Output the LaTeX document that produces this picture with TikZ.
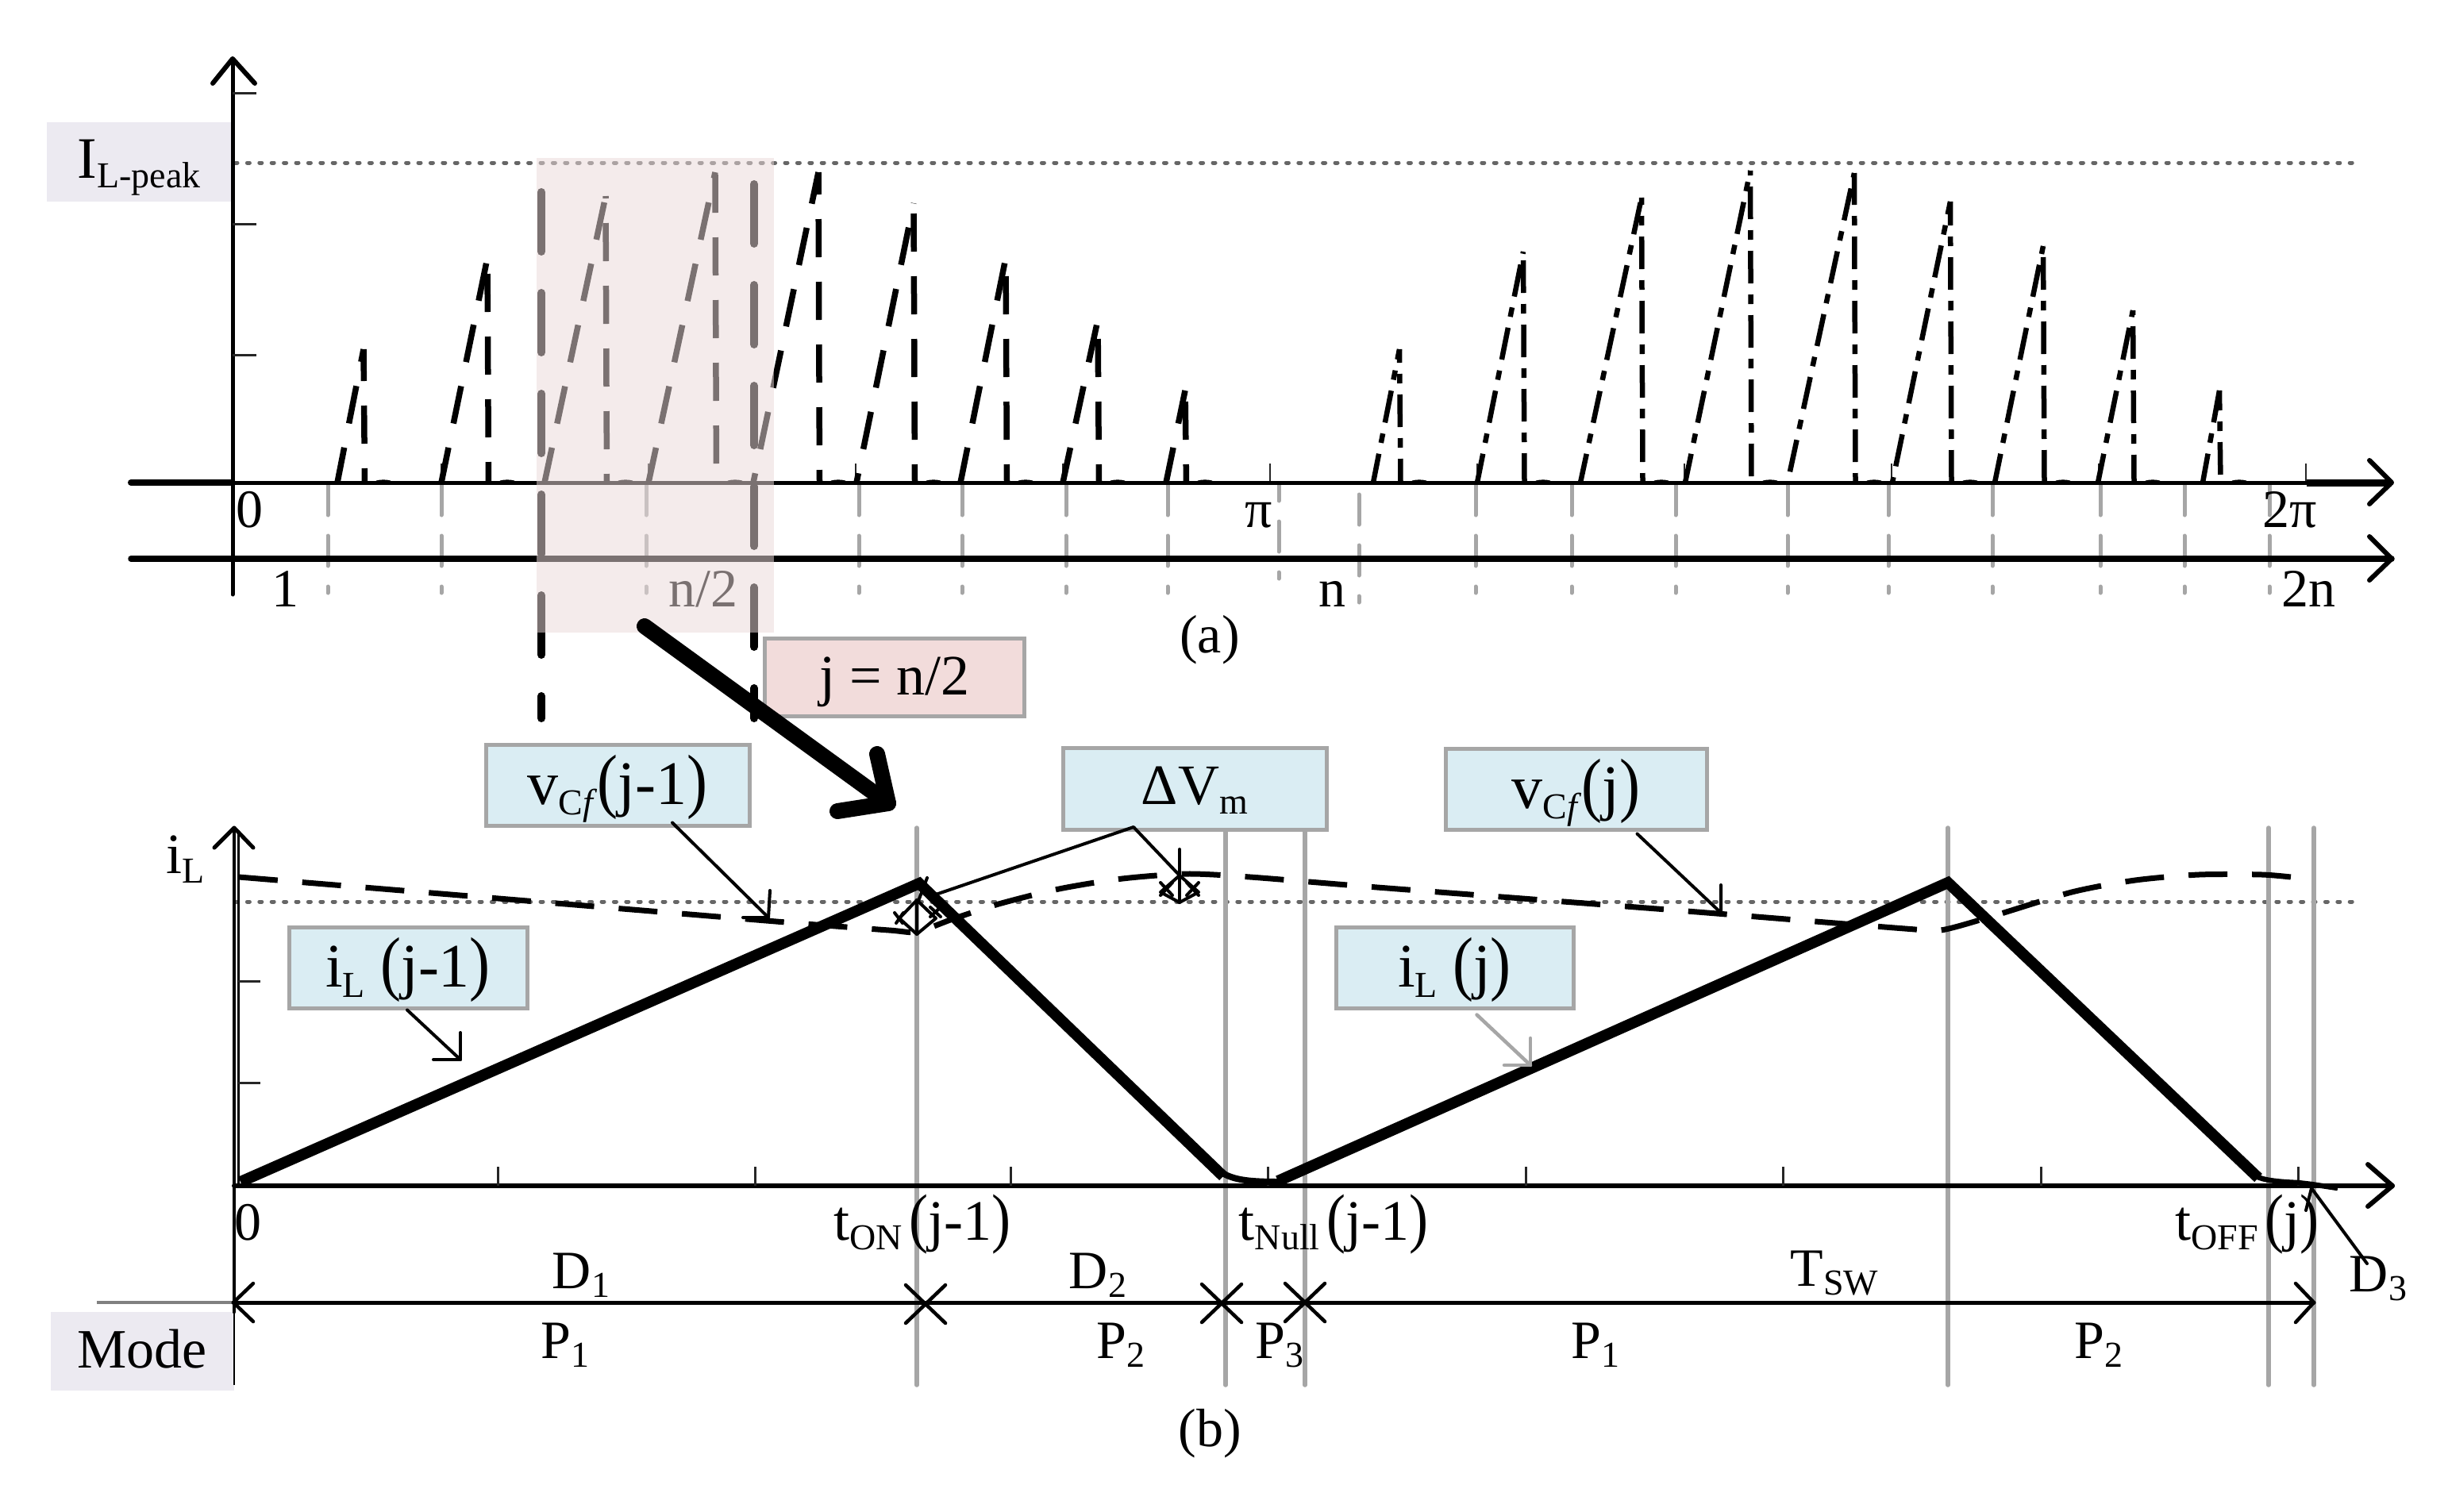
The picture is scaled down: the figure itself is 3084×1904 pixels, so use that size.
\documentclass[tikz,border=0pt]{standalone}
\usepackage{graphicx}
\usepackage{fontspec}
\setmainfont{Liberation Serif}
\usetikzlibrary{calc}
\newcommand\fa{\fontsize{72pt}{72pt}\selectfont}
\newcommand\fb{\fontsize{68pt}{68pt}\selectfont}
\newcommand\fc{\fontsize{78pt}{78pt}\selectfont}
\newcommand\sbs[1]{\raisebox{-.17em}{\fontsize{46pt}{46pt}\selectfont #1}}
\newcommand\lpn{\scalebox{1}[1.15]{(}}
\newcommand\rpn{\scalebox{1}[1.15]{)}}
\definecolor{greyline}{HTML}{A6A6A6}
\definecolor{blueb}{HTML}{DAEDF3}
\definecolor{lilac}{HTML}{ECEAF1}
\definecolor{pinkb}{HTML}{F2DCDB}
\definecolor{veil}{HTML}{EBDADA}
\definecolor{dotc}{HTML}{666666}
\tikzset{
  lab/.style={font=\fb,anchor=base,inner sep=0pt},
  cbox/.style={draw=greyline,line width=5pt,fill=blueb,inner sep=0pt,font=\fc,text height=48pt,text depth=0pt,align=center},
  axis/.style={line width=6pt,line cap=round,line join=round},
  thinblk/.style={line width=4pt,line cap=round,line join=round},
  tick/.style={line width=3pt,color=black!85},
  gv/.style={line width=5.5pt,color=greyline,line cap=round},
  gdash/.style={line width=5pt,color=greyline,line cap=round,dash pattern=on 38pt off 26pt on 38pt off 26pt on 8pt off 300pt},
  peak/.style={line width=5pt,color=dotc,line cap=round,dash pattern=on 3pt off 12.4pt},
  saw/.style={line width=7.5pt,dash pattern=on 48pt off 31pt},
  sawdd/.style={line width=6.5pt,dash pattern=on 41pt off 14pt on 12pt off 14pt},
  thickd/.style={line width=10pt,line cap=round,dash pattern=on 75pt off 52pt},
}
\begin{document}
\begin{tikzpicture}[x=1pt,y=-1pt]
\useasboundingbox (0,0) rectangle (3084,1904);
\fill[white] (0,0) rectangle (3084,1904);

% ---------- chart (a)
\fill[lilac] (59,154) rectangle (293,254);
\node[lab,font=\fontsize{74pt}{74pt}\selectfont] (ipeak) at (175,224) {I\sbs{L-peak}};
\draw[peak] (296,205) -- (2970,205);

\foreach \x in {556,817,1078,1339,1600,1861,2122,2383,2644,2905}
  \draw[tick,line width=2.5pt] (\x,608) -- (\x,584);

% saw-tooth pulses, first half
\foreach \xa/\xp/\yp/\pr/\pf in {425/458/440/3/30,556/614/325/3/22,686/763/247/3/37,817/901/217/3/55,949/1031/217/36/32,1079/1151/256/36/25,1210/1267/325/3/25,1339/1383/403/3/25,1469/1493/492/3/25}{
  \draw[saw,dash phase=\pr pt] (\xa,608) -- (\xp,\yp);
  \draw[saw,dash phase=\pf pt] (\xp+1.5,608) -- (\xp,\yp);
  \draw[line width=2pt] (\xp+16,606.5) .. controls (\xp+22,605) and (\xp+28,605) .. (\xp+34,606.5);
}
% saw-tooth pulses, second half
\foreach \xa/\xp/\yp/\pr/\pf in {1730/1763/440/4/11,1861/1919/317/4/4,1991/2068/249/4/55,2123/2205/215/4/73,2252/2336/218/67/55,2384/2457/254/60/0,2513/2574/310/4/0,2643/2687/391/4/6,2775/2796/492/4/71}{
  \draw[sawdd,dash phase=\pr pt] (\xa,608) -- (\xp,\yp);
  \draw[sawdd,dash phase=\pf pt] (\xp+1.5,608) -- (\xp,\yp);
  \draw[line width=2pt] (\xp+16,606.5) .. controls (\xp+22,605) and (\xp+28,605) .. (\xp+34,606.5);
}

% grey dashed verticals
\foreach \x in {413,556,814,1082,1212,1343,1471,1859,1980,2111,2252,2379,2510,2646,2752,2859}
  \draw[gdash] (\x,611) -- (\x,750);
\draw[gdash,dash pattern=on 20pt off 26pt on 38pt off 26pt on 8pt off 300pt] (1611,611) -- (1611,732);
\draw[gdash,dash pattern=on 38pt off 26pt on 38pt off 26pt on 8pt off 300pt] (1712,623) -- (1712,760);

% axes of (a)
\coordinate (a1l) at (165,608);
\coordinate (a1m) at (293,608);
\coordinate (a1n) at (2906,608);
\coordinate (a1r) at (3013,608);
\coordinate (a2l) at (165,704);
\coordinate (a2r) at (3013,704);
\coordinate (ayb) at (293,749);
\coordinate (ayt) at (293,74);
\draw[axis,line width=5pt] (ayb) -- (ayt);
\draw[axis] (268,105) -- (ayt) -- (321,105);
\foreach \y in {117,282,447}
  \draw[tick] (293,\y) -- (323,\y);
\draw[line width=8pt,line cap=round] (a1l) -- (a1m);
\draw[line width=5pt] (a1m) -- (a1n);
\draw[line width=9pt] (a1n) -- (a1r);
\draw[axis] (2985,580) -- (a1r) -- (2985,635);
\draw[line width=7.5pt,line cap=round] (a2l) -- (a2r);
\draw[axis] (2985,676) -- (a2r) -- (2985,731);

\node[lab] (z0) at (314,664) {0};
\node[lab] (pi1) at (1586,664) {π};
\node[lab] (pi2) at (2885,664) {2π};
\node[lab] (n1) at (359,764) {1};
\node[lab] (n2) at (886,764) {n/2};
\node[lab] (n3) at (1678,764) {n};
\node[lab] (n4) at (2908,764) {2n};
\node[lab] (capa) at (1524,822) {(a)};

% thick dashed marks and the veil
\draw[thickd] (682,242) -- (682,905);
\draw[thickd] (950,232) -- (950,905);
\fill[veil,opacity=.52] (676,199) rectangle (975,797);

\node[draw=greyline,line width=5pt,fill=pinkb,inner sep=0pt,font=\fa,text height=44pt,text depth=0pt,minimum width=327pt,minimum height=98pt] (jbox) at (1127,853) {j = n/2};

% big arrow
\coordinate (big1) at (812,789);
\coordinate (big2) at (1119,1012);
\draw[line width=20pt,line cap=round] (big1) -- (big2);
\draw[line width=20pt,line cap=round,line join=round] (1105,950) -- (big2) -- (1055,1022);

% ---------- chart (b)
\draw[peak] (296,1136) -- (2971,1136);
\foreach \x in {1155,2454,2858,2915}
  \draw[gv] (\x,1043) -- (\x,1745);
\draw[gv] (1544,1046) -- (1544,1745);
\draw[gv] (1644,1046) -- (1644,1745);

\fill[lilac] (64,1653) rectangle (295,1752);
\node[lab,font=\fontsize{70pt}{70pt}\selectfont] (mode) at (179,1723) {Mode};
\draw[line width=1.5pt] (295,1653) -- (295,1745);

% axis
\coordinate (byt) at (295,1043);
\coordinate (byb) at (295,1653);
\coordinate (bxo) at (295,1494);
\coordinate (bxr) at (3014,1494);
\draw[axis,line width=4.5pt] (byb) -- (byt);
\draw[line width=3pt] (300,1046) -- (300,1494);
\draw[axis,line width=5pt] (270,1068) -- (byt) -- (319,1068);
\foreach \y in {1236,1364}
  \draw[tick] (300,\y) -- (328,\y);
\draw[axis] (bxo) -- (bxr);
\draw[axis] (2983,1467) -- (bxr) -- (2983,1520);
\foreach \x in {627,951,1273,1597,1922,2246,2571,2895}
  \draw[tick] (\x,1494) -- (\x,1470);

% vCf dashed curve
\draw[line width=7pt,dash pattern=on 49pt off 31pt] plot[smooth,tension=.45] coordinates {(301,1105) (640,1133) (990,1162) (1120,1172) (1155,1174) (1200,1158) (1258,1139) (1334,1120) (1414,1107) (1495,1101) (1575,1105) (1735,1118) (2100,1146) (2400,1170) (2445,1172) (2508,1155) (2610,1124) (2690,1109) (2770,1102) (2850,1102) (2895,1106)};

% current waveform
\draw[line width=14pt,line join=miter] (303,1489) -- (1158,1113) -- (1541,1482);
\draw[line width=14pt,line join=miter] (1610,1488) -- (2454,1112) -- (2845,1484);
\draw[line width=8pt] (1540,1478) .. controls (1556,1487) and (1575,1489) .. (1612,1489);
\draw[line width=6.5pt] (2842,1482) .. controls (2852,1487) and (2870,1489) .. (2895,1490) -- (2912,1492) -- (2945,1497);

% markers
\draw[thinblk] (1155,1134) -- (1179,1157) -- (1155,1177) -- (1133,1157) -- cycle;
\draw[thinblk] (1155,1134) -- (1155,1177);
\draw[thinblk] (1168,1106) -- (1157,1135);
\draw[thinblk] (1127,1150) -- (1137,1163) (1138,1150) -- (1129,1163);
\draw[thinblk] (1172,1143) -- (1185,1155) (1185,1143) -- (1172,1155);
\draw[thinblk] (1486,1103) -- (1510,1124) -- (1486,1137) -- (1462,1124) -- cycle;
\draw[thinblk] (1486,1070) -- (1486,1137);
\draw[thinblk] (1462,1112) -- (1477,1128) (1477,1112) -- (1462,1128);
\draw[thinblk] (1495,1112) -- (1510,1128) (1510,1112) -- (1495,1128);

% boxes
\node[cbox,minimum width=332pt,minimum height=102pt] (vc1) at (778,989) {v\sbs{C\textit{f}}\lpn j-1\rpn};
\node[cbox,font=\fa,text height=40pt,minimum width=332pt,minimum height=103pt] (dvm) at (1505,993.5) {ΔV\sbs{m}};
\node[cbox,minimum width=329pt,minimum height=102pt] (vc2) at (1985.5,994) {v\sbs{C\textit{f}}\lpn j\rpn};
\node[cbox,minimum width=300pt,minimum height=102pt] (il1) at (514,1219) {i\sbs{L} \lpn j-1\rpn};
\node[cbox,minimum width=299pt,minimum height=102pt] (il2) at (1832.5,1219) {i\sbs{L} \lpn j\rpn};

% leaders
\coordinate (t1) at (968,1156);
\coordinate (t2) at (2168,1150);
\coordinate (t3) at (580,1335);
\coordinate (t4) at (1928,1342);
\coordinate (t5) at (1428,1042);
\coordinate (t6) at (1486,1103);
\coordinate (t7) at (1176,1128);
\draw[thinblk] ($(vc1.south)+(69,-6)$) -- (t1);
\draw[thinblk] (970,1122) -- (t1) -- (936,1156);
\draw[thinblk] ($(vc2.south)+(77,3)$) -- (t2);
\draw[thinblk] (2168,1115) -- (t2) -- (2134,1149);
\draw[thinblk] ($(il1.south)+(-1,0)$) -- (t3);
\draw[thinblk] (580,1301) -- (t3) -- (546,1335);
\draw[thinblk,color=greyline,line width=4.5pt] ($(il2.south)+(28,6)$) -- (t4);
\draw[thinblk,color=greyline,line width=4.5pt] (1928,1308) -- (t4) -- (1895,1342);
\draw[thinblk] (t6) -- (t5) -- (t7);

% timing bar
\coordinate (tl) at (294,1641);
\coordinate (tr) at (2915,1641);
\draw[color=black!50,line width=4pt] (122,1641) -- (tl);
\draw[axis,line width=5pt] (tl) -- (tr);
\draw[axis,line width=4.5pt] (319,1617) -- (tl) -- (319,1665);
\draw[axis,line width=4.5pt] (2892,1617) -- (tr) -- (2892,1666);
\foreach \x/\y in {1166/1643,1539/1642,1644/1641}{
  \draw[axis,line width=4.5pt] (\x-25,\y-24) -- (\x+25,\y+24) (\x-25,\y+24) -- (\x+25,\y-24);
}

% D3 leader
\coordinate (d3t) at (2912,1497);
\draw[thinblk] (2982,1592) -- (d3t) -- (2905,1525);

% labels of (b)
\node[lab,font=\fa] (ilax) at (234,1100) {i\sbs{L}};
\node[lab] (z1) at (312,1562) {0};
\node[lab,font=\fa] (ton) at (1162,1562) {t\sbs{ON}\hspace{.12em}\lpn j-1\rpn};
\node[lab,font=\fa] (tnull) at (1680,1562) {t\sbs{Null}\hspace{.12em}\lpn j-1\rpn};
\node[lab,font=\fa] (toff) at (2831,1562) {t\sbs{OFF}\hspace{.12em}\lpn j\rpn};
\node[lab] (d1) at (732,1623) {D\sbs{1}};
\node[lab] (d2) at (1383,1623) {D\sbs{2}};
\node[lab] (tsw) at (2311,1620) {T\sbs{SW}};
\node[lab] (d3) at (2996,1627) {D\sbs{3}};
\node[lab] (p1a) at (712,1711) {P\sbs{1}};
\node[lab] (p2a) at (1412,1711) {P\sbs{2}};
\node[lab] (p3) at (1612,1711) {P\sbs{3}};
\node[lab] (p1b) at (2010,1711) {P\sbs{1}};
\node[lab] (p2b) at (2644,1711) {P\sbs{2}};
\node[lab] (capb) at (1524,1822) {(b)};
\end{tikzpicture}
\end{document}
